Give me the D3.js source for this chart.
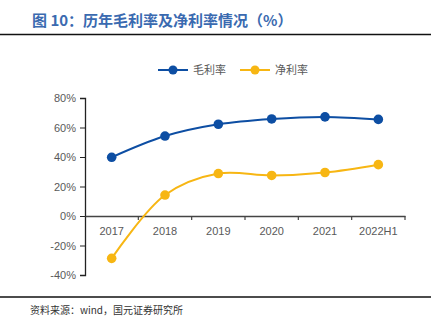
<!DOCTYPE html>
<html>
<head>
<meta charset="utf-8">
<script src="https://cdn.jsdelivr.net/npm/d3@7"></script>
<style>
  body { margin: 0; background: #fff; }
  svg { display: block; }
</style>
</head>
<body>
<div id="chart"></div>
<script>
var years = ["2017", "2018", "2019", "2020", "2021", "2022H1"];
var grossMargin = [39.8, 54.2, 62.2, 65.8, 67.2, 65.5];
var netMargin = [-28.7, 14.2, 28.8, 27.5, 29.5, 34.8];
var yTicks = [-40, -20, 0, 20, 40, 60, 80];

var W = 442, H = 322;
var margin = {top: 98, right: 37, bottom: 47, left: 85},
    width = W - margin.left - margin.right,
    height = H - margin.top - margin.bottom;

var svg = d3.select("#chart").append("svg")
    .attr("width", W)
    .attr("height", H);

// title and rules
svg.append("text")
    .attr("x", 32).attr("y", 26)
    .attr("font-family", "Noto Sans CJK SC")
    .attr("font-size", 15).attr("font-weight", "bold")
    .attr("fill", "#3a6ab0")
    .text("图 10：历年毛利率及净利率情况（%）");
svg.append("line").attr("x1", 0).attr("x2", 431).attr("y1", 34.5).attr("y2", 34.5)
    .attr("stroke", "#111").attr("stroke-width", 1.5);
svg.append("line").attr("x1", 0).attr("x2", 431).attr("y1", 297).attr("y2", 297)
    .attr("stroke", "#111").attr("stroke-width", 1.5);
svg.append("text")
    .attr("x", 30).attr("y", 314)
    .attr("font-family", "Noto Sans CJK SC")
    .attr("font-size", 10).attr("fill", "#333")
    .text("资料来源：wind，国元证券研究所");

var g = svg.append("g")
    .attr("transform", "translate(" + margin.left + "," + margin.top + ")");

var x = d3.scaleBand().domain(years).range([0, width]);
var y = d3.scaleLinear().domain([-40, 80]).range([height, 0]);

// y axis
var yAxis = g.append("g")
    .call(d3.axisLeft(y).tickValues(yTicks).tickSize(5).tickPadding(4)
      .tickFormat(function(d) { return d + "%"; }));
yAxis.select(".domain").attr("stroke", "#222").attr("stroke-width", 1.3);
yAxis.selectAll(".tick line").attr("stroke", "#222");
yAxis.selectAll("text").attr("font-family", "Liberation Sans")
    .attr("font-size", 11).attr("fill", "#595959");

// x axis at zero
var xAxis = g.append("g")
    .attr("transform", "translate(0," + y(0) + ")")
    .call(d3.axisBottom(x).tickSize(0).tickPadding(11));
xAxis.select(".domain").attr("stroke", "#444").attr("stroke-width", 1.3);
xAxis.selectAll("text").attr("font-family", "Liberation Sans")
    .attr("font-size", 11).attr("fill", "#595959");
g.append("g").selectAll("line")
    .data(years.slice(1).concat(["end"]))
    .enter().append("line")
    .attr("x1", function(d, i) { return x.step() * (i + 1); })
    .attr("x2", function(d, i) { return x.step() * (i + 1); })
    .attr("y1", y(0)).attr("y2", y(0) + 4)
    .attr("stroke", "#444").attr("stroke-width", 1.2);

var series = [
  {name: "毛利率", values: grossMargin, color: "#0d4ea3"},
  {name: "净利率", values: netMargin, color: "#f7b613"}
];

var line = d3.line()
    .x(function(d, i) { return x(years[i]) + x.bandwidth() / 2; })
    .y(function(d) { return y(d); })
    .curve(d3.curveCatmullRom.alpha(0.5));

series.forEach(function(s) {
  g.append("path")
    .attr("d", line(s.values))
    .attr("fill", "none")
    .attr("stroke", s.color)
    .attr("stroke-width", 2);
  g.selectAll(".dot-" + s.name)
    .data(s.values)
    .enter().append("circle")
    .attr("cx", function(d, i) { return x(years[i]) + x.bandwidth() / 2; })
    .attr("cy", function(d) { return y(d); })
    .attr("r", 4.8)
    .attr("fill", s.color);
});

// legend
var legend = svg.append("g").attr("transform", "translate(158,70)");
series.forEach(function(s, i) {
  var lg = legend.append("g").attr("transform", "translate(" + (i * 82) + ",0)");
  lg.append("line").attr("x1", 0).attr("x2", 30).attr("y1", 0).attr("y2", 0)
    .attr("stroke", s.color).attr("stroke-width", 2);
  lg.append("circle").attr("cx", 15).attr("cy", 0).attr("r", 4.5).attr("fill", s.color);
  lg.append("text").attr("x", 35).attr("y", 4)
    .attr("font-family", "Noto Sans CJK SC")
    .attr("font-size", 11).attr("fill", "#595959")
    .text(s.name);
});
</script>
</body>
</html>
